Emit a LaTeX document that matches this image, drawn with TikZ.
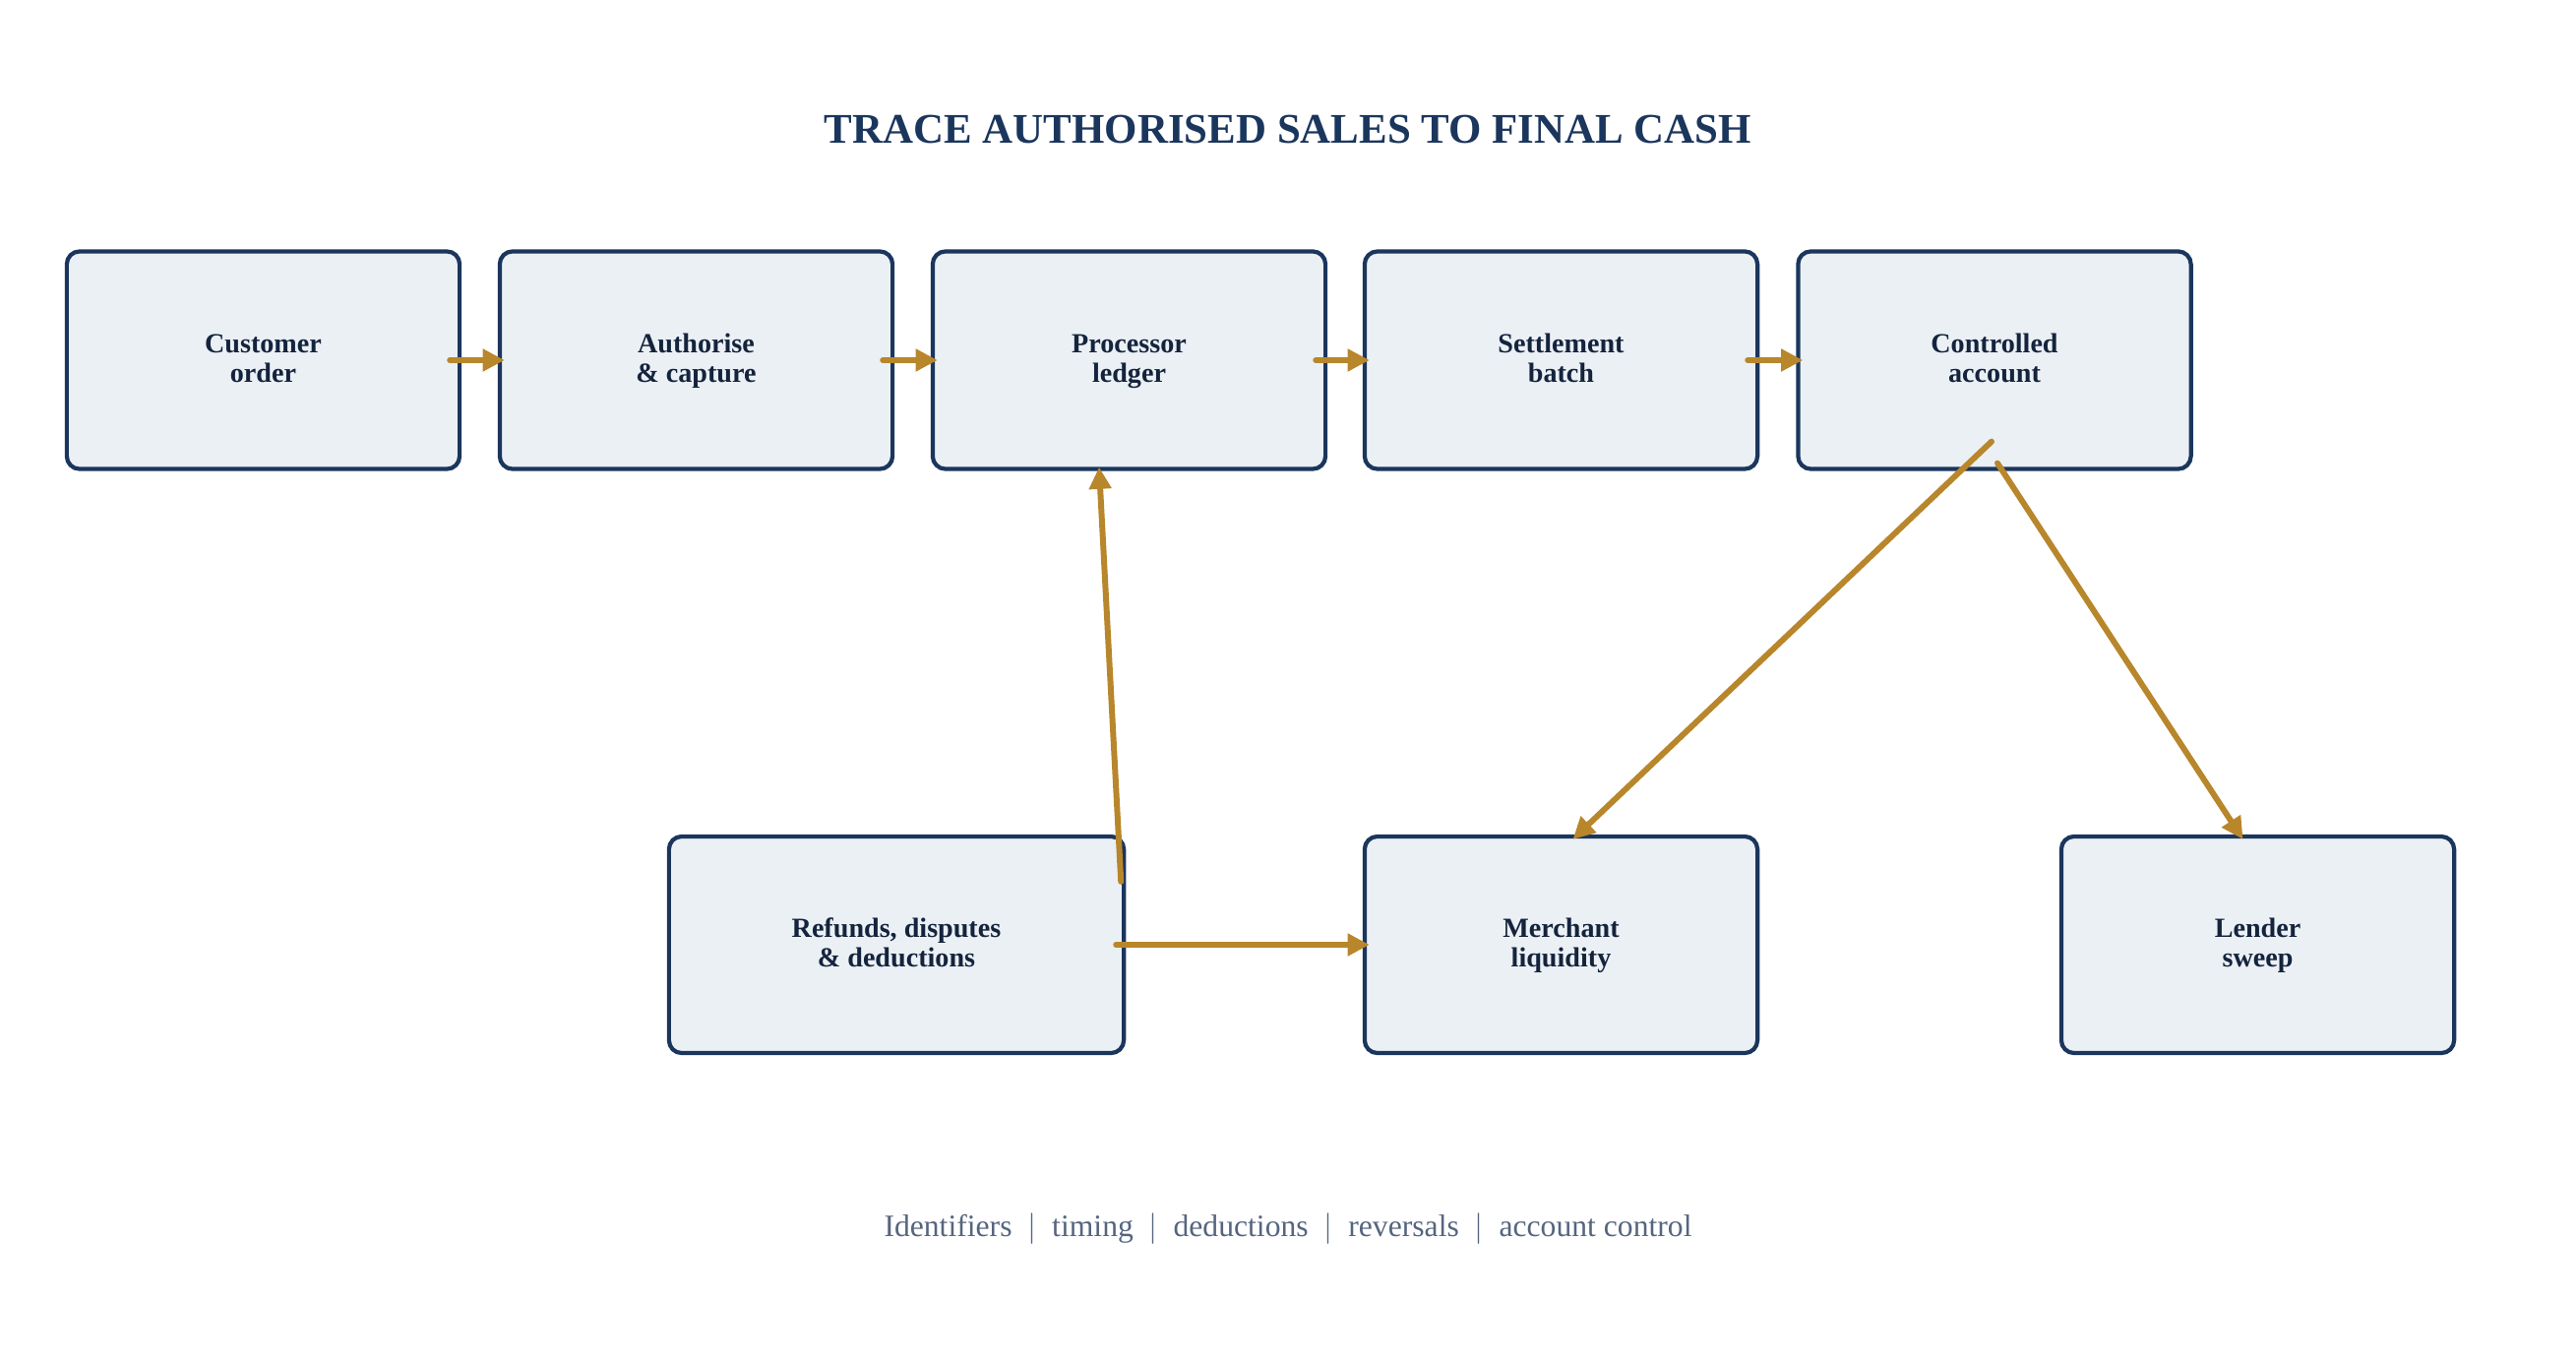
\documentclass[tikz,border=0pt]{standalone}
\usepackage{fontspec}
\setmainfont{Liberation Serif}
\usetikzlibrary{arrows.meta,calc}
\definecolor{boxfill}{HTML}{EBF0F5}
\definecolor{boxline}{HTML}{1B365D}
\definecolor{boxtext}{HTML}{14243D}
\definecolor{arrowc}{HTML}{B8862B}
\definecolor{titlec}{HTML}{1B365D}
\definecolor{footc}{HTML}{56657F}
\tikzset{
  stagebox/.style={draw=boxline, fill=boxfill, line width=1.2pt, rounded corners=0.13cm,
    minimum height=2.21cm, inner sep=0pt, align=center, text=boxtext,
    text height=15.1pt, text depth=2.2pt,
    font=\bfseries\fontsize{8}{8.6}\selectfont},
  flow/.style={draw=arrowc, line width=1.7pt, line cap=round,
    -{Triangle[length=6.3pt,width=6.2pt]}},
}
\begin{document}
\begin{tikzpicture}[x=0.01cm,y=-0.01cm]
\useasboundingbox (0,0) rectangle (2618,1386);
\node[font=\bfseries\fontsize{12.2}{14}\selectfont, text=titlec] (title) at (1309,132) {TRACE AUTHORISED SALES TO FINAL CASH};
\node[stagebox, minimum width=3.99cm] (co) at (267.5,366) {Customer\\order};
\node[stagebox, minimum width=3.99cm] (ac) at (707.5,366) {Authorise\\\& capture};
\node[stagebox, minimum width=3.99cm] (pl) at (1147.5,366) {Processor\\ledger};
\node[stagebox, minimum width=3.99cm] (sb) at (1586.5,366) {Settlement\\batch};
\node[stagebox, minimum width=3.99cm] (ca) at (2027,366) {Controlled\\account};
\node[stagebox, minimum width=4.62cm, minimum height=2.2cm] (rd) at (911,960) {Refunds, disputes\\\& deductions};
\node[stagebox, minimum width=3.99cm, minimum height=2.2cm] (ml) at (1586.5,960) {Merchant\\liquidity};
\node[stagebox, minimum width=3.99cm, minimum height=2.2cm] (ls) at (2294.5,960) {Lender\\sweep};
\draw[flow] ($(co.east)+(-12,0)$) -- ($(ac.west)+(7,0)$);
\draw[flow] ($(ac.east)+(-12,0)$) -- ($(pl.west)+(7,0)$);
\draw[flow] ($(pl.east)+(-12,0)$) -- ($(sb.west)+(7,0)$);
\draw[flow] ($(sb.east)+(-12,0)$) -- ($(ca.west)+(7,0)$);
\draw[flow] ($(rd.north east)+(-5,48)$) -- ($(pl.south)+(-30.5,-4)$);
\draw[flow] ($(rd.east)+(-10,0)$) -- ($(ml.west)+(7,0)$);
\draw[flow] ($(ca.south)+(-3,-30)$) -- ($(ml.north)+(12,5)$);
\draw[flow] ($(ca.south)+(3,-8)$) -- ($(ls.north)+(-15,5)$);
\node[font=\fontsize{9}{11}\selectfont, text=footc] (foot) at (1309,1249) {Identifiers \ $|$ \ timing \ $|$ \ deductions \ $|$ \ reversals \ $|$ \ account control};
\end{tikzpicture}
\end{document}
